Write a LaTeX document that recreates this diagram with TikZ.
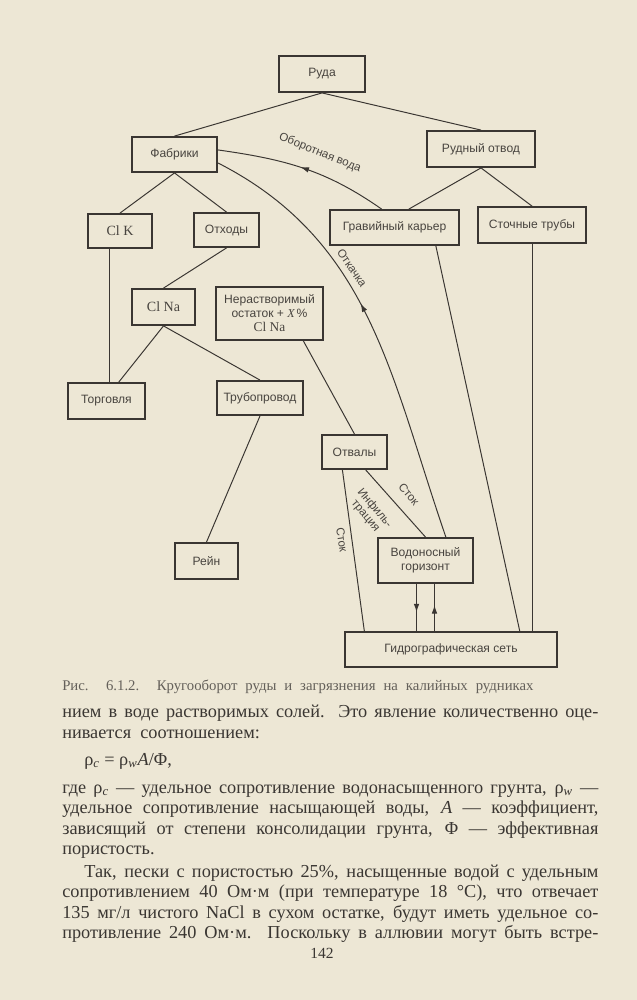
\documentclass[tikz,border=0pt]{standalone}
\usepackage{fontspec}
\setmainfont{Liberation Serif}
\newfontfamily\diagfont{Liberation Sans}
\usetikzlibrary{arrows.meta,decorations.markings}
\definecolor{paper}{RGB}{237,231,213}
\definecolor{ink}{RGB}{58,54,50}
\definecolor{inkl}{RGB}{72,68,63}
\definecolor{inkc}{RGB}{100,96,90}
\tikzset{
  boxnode/.style={draw=ink,line width=1.3pt,inner sep=0pt,text=inkl,align=center,font=\diagfont\fontsize{8.6}{10}\selectfont},
  flow/.style={draw=ink,line width=0.7pt},
  flowlbl/.style={inner sep=0.5pt,text=inkl,font=\diagfont\fontsize{8.2}{8.4}\selectfont},
  midtip/.style={decoration={markings,mark=at position #1 with {\arrow{Latex[length=6pt,width=4pt]}}},postaction={decorate}},
  bodyline/.style={anchor=west,inner sep=0pt,text height=8pt,text depth=2pt,text=ink,font=\fontsize{13}{15}\selectfont}
}
\begin{document}
\begin{tikzpicture}[x=0.025cm,y=0.025cm]
  \fill[paper] (0,0) rectangle (637,-1000);
  \node[boxnode,minimum width=2.15cm,minimum height=0.9cm] (ruda) at (322,-74) {Руда};
  \node[boxnode,minimum width=2.125cm,minimum height=0.875cm] (fabriki) at (174.5,-154.5) {Фабрики};
  \node[boxnode,minimum width=2.7cm,minimum height=0.9cm] (rotvod) at (481,-149) {Рудный отвод};
  \node[boxnode,minimum width=3.225cm,minimum height=0.875cm] (gravij) at (394.5,-227.5) {Гравийный карьер};
  \node[boxnode,minimum width=2.7cm,minimum height=0.9cm] (stok) at (532,-225) {Сточные трубы};
  \node[boxnode,minimum width=1.6cm,minimum height=0.85cm,font=\rmfamily\fontsize{10}{11}\selectfont] (clk) at (120,-231) {Cl K};
  \node[boxnode,minimum width=1.625cm,minimum height=0.85cm] (othody) at (226.5,-230) {Отходы};
  \node[boxnode,minimum width=1.575cm,minimum height=0.9cm,font=\rmfamily\fontsize{10}{11}\selectfont] (clna) at (163.5,-307) {Cl Na};
  \node[boxnode,minimum width=2.675cm,minimum height=1.325cm] (nerast) at (269.5,-313.5) {Нерастворимый\\остаток + {\rmfamily\itshape X}\,\%\\{\rmfamily\fontsize{9.5}{10}\selectfont Cl Na}};
  \node[boxnode,minimum width=1.925cm,minimum height=0.9cm] (torg) at (106.5,-401) {Торговля};
  \node[boxnode,minimum width=2.15cm,minimum height=0.85cm] (trub) at (260,-398) {Трубопровод};
  \node[boxnode,minimum width=1.625cm,minimum height=0.85cm] (otvaly) at (354.5,-452) {Отвалы};
  \node[boxnode,minimum width=1.575cm,minimum height=0.9cm] (rejn) at (206.5,-561) {Рейн};
  \node[boxnode,minimum width=2.375cm,minimum height=1.125cm] (vodon) at (425.5,-560.5) {Водоносный\\горизонт};
  \node[boxnode,minimum width=5.3cm,minimum height=0.875cm] (hydro) at (451,-649.5) {Гидрографическая сеть};
  \draw[flow] (ruda.south) -- (fabriki.north);
  \draw[flow] (ruda.south) -- (rotvod.north);
  \draw[flow] (fabriki.south) -- (clk.north);
  \draw[flow] (fabriki.south) -- (othody.north);
  \draw[flow] (othody.south) -- (clna.north);
  \draw[flow] (clna.south) -- (torg.57);
  \draw[flow] (clk.240) -- (clk.240 |- torg.north);
  \draw[flow] (clna.south) -- (trub.north);
  \draw[flow] (trub.south) -- (rejn.north);
  \draw[flow] (rotvod.south) -- (gravij.52);
  \draw[flow] (rotvod.south) -- (stok.north);
  \draw[flow] (nerast.321) -- (otvaly.north);
  \draw[flow] (otvaly.236) -- (hydro.168);
  \draw[flow] (otvaly.302) -- (vodon.north);
  \draw[flow] (gravij.336) -- (hydro.15);
  \draw[flow] (stok.south) -- (stok.south |- hydro.north);
  \draw[flow,midtip=0.6] (vodon.249) -- (vodon.249 |- hydro.north);
  \draw[flow,midtip=0.55] (vodon.291 |- hydro.north) -- (vodon.291);
  \draw[flow,midtip=0.55] (vodon.49) to[out=109,in=-27] (fabriki.349);
  \draw[flow,midtip=0.52] (gravij.125) to[out=145,in=-8] (fabriki.6);
  \node[flowlbl,rotate=-22] (lobor) at (320,-153) {Оборотная вода};
  \node[flowlbl,rotate=-56] (lotk) at (352,-268) {Откачка};
  \node[flowlbl,rotate=-50] (lstok) at (409,-494) {Сток};
  \node[flowlbl,rotate=-50,align=center] (linf) at (370,-512) {Инфиль-\\трация};
  \node[flowlbl,rotate=-81] (lstokb) at (342,-540) {Сток};
  \node[anchor=west,inner sep=0pt,text=inkc,font=\fontsize{10.5}{12}\selectfont] (capt) at (62,-687) {\makebox[11.78cm][s]{Рис. 6.1.2. Кругооборот руды и загрязнения на калийных рудниках}};
  \node[bodyline] (t1) at (62,-713) {\makebox[13.4cm][s]{нием в воде растворимых солей. Это явление количественно оце-}};
  \node[bodyline] (t2) at (62,-734) {нивается\ \ соотношением:};
  \node[bodyline] (t3) at (84,-761) {ρ\textsubscript{\textit{c}} = ρ\textsubscript{\textit{w}}\textit{A}/Φ,};
  \node[bodyline] (t4) at (62,-789) {\makebox[13.4cm][s]{где ρ\textsubscript{\textit{c}} — удельное сопротивление водонасыщенного грунта, ρ\textsubscript{\textit{w}} —}};
  \node[bodyline] (t5) at (62,-809.5) {\makebox[13.4cm][s]{удельное сопротивление насыщающей воды, \textit{A} — коэффициент,}};
  \node[bodyline] (t6) at (62,-830) {\makebox[13.4cm][s]{зависящий от степени консолидации грунта, Φ — эффективная}};
  \node[bodyline] (t7) at (62,-850.5) {пористость.};
  \node[bodyline] (t8) at (84,-873) {\makebox[12.85cm][s]{Так, пески с пористостью 25\%, насыщенные водой с удельным}};
  \node[bodyline] (t9) at (62,-893.5) {\makebox[13.4cm][s]{сопротивлением 40 Ом·м (при температуре 18 °C), что отвечает}};
  \node[bodyline] (t10) at (62,-914) {\makebox[13.4cm][s]{135 мг/л чистого NaCl в сухом остатке, будут иметь удельное со-}};
  \node[bodyline] (t11) at (62,-934.5) {\makebox[13.4cm][s]{противление 240 Ом·м. Поскольку в аллювии могут быть встре-}};
  \node[inner sep=0pt,text=ink,font=\fontsize{11}{12}\selectfont] (pnum) at (322,-953) {142};
\end{tikzpicture}
\end{document}
